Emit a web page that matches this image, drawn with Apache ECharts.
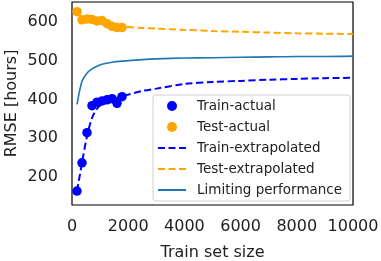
<!DOCTYPE html>
<html>
<head>
<meta charset="utf-8">
<script src="https://cdn.jsdelivr.net/npm/echarts@6/dist/echarts.min.js"></script>
<style>
  html, body { margin: 0; padding: 0; background: #fff; }
  #learnCurve { width: 381px; height: 261px; }
</style>
</head>
<body>
<div id="learnCurve"></div>
<script>
// measured points
const trainSizes = [178, 356, 534, 712, 890, 1068, 1246, 1424, 1602, 1780];
const trainRmse = [163, 236, 314, 384, 393, 396, 399, 402, 390, 407];
const testRmse = [627, 606, 608, 607, 603, 604, 596, 589, 586, 586];

// extrapolated curves
const extrapSizes = [178, 356, 534, 712, 890, 1068, 1424, 1780, 2500, 3000, 4000, 5000, 6000, 7000, 8000, 9000, 10000];
const trainExtrap = [163, 236, 305, 352, 376, 388, 400, 408, 422, 428, 440, 445, 448, 451, 453, 455, 456];
const testExtrap = [622, 612, 606, 602, 599, 596, 591, 588, 585, 583, 580, 577, 575, 573, 571, 570, 569];
const limiting = [387, 447, 468, 479, 486, 491, 496, 499, 503, 505, 507, 508, 509, 510, 511, 511, 512];

const xTicks = [0, 2000, 4000, 6000, 8000, 10000];

function pairs(xs, ys) {
  return xs.map(function(x, i) { return [x, ys[i]]; });
}

const chart = echarts.init(document.getElementById('learnCurve'));
const font = 'DejaVu Sans';
const dash = [7, 3.5];

chart.setOption({
  backgroundColor: '#fff',
  animation: false,
  textStyle: { fontFamily: font },
  grid: {
    left: 72, right: 28, top: 2, bottom: 56,
    containLabel: false,
    outerBoundsMode: 'none',
    show: true,
    borderColor: '#000',
    borderWidth: 1.2
  },
  xAxis: {
    type: 'value',
    min: xTicks[0],
    max: xTicks[xTicks.length - 1],
    interval: 2000,
    name: 'Train set size',
    nameLocation: 'middle',
    nameGap: 40,
    nameTextStyle: { fontSize: 16, color: '#222', fontFamily: font },
    axisLine: { show: false },
    axisTick: { show: false },
    splitLine: { show: false },
    axisLabel: {
      fontSize: 16, color: '#222', margin: 14, fontFamily: font,
      formatter: function(v) { return String(v); }
    }
  },
  yAxis: {
    type: 'value',
    min: 127,
    max: 652,
    splitNumber: 5,
    name: 'RMSE [hours]',
    nameLocation: 'middle',
    nameGap: 52,
    nameMoveOverlap: false,
    nameTextStyle: { fontSize: 16, color: '#222', fontFamily: font },
    axisLine: { show: false },
    axisTick: { show: false },
    splitLine: { show: false },
    axisLabel: {
      fontSize: 16, color: '#222', margin: 14, fontFamily: font,
      showMinLabel: false, showMaxLabel: false,
      formatter: function(v) { return v % 100 === 0 ? String(v) : ''; }
    }
  },
  legend: {
    orient: 'vertical',
    left: 153,
    top: 95,
    padding: [4, 8, 4, 4],
    itemWidth: 28,
    itemHeight: 10,
    itemGap: 7,
    backgroundColor: 'rgba(255,255,255,0.85)',
    borderColor: '#d0d0d0',
    borderWidth: 1,
    borderRadius: 3,
    textStyle: { fontSize: 13.5, color: '#222', fontFamily: font, padding: [0, 0, 0, 6] },
    data: [
      'Train-actual',
      'Test-actual',
      { name: 'Train-extrapolated', itemStyle: { opacity: 0 } },
      { name: 'Test-extrapolated', itemStyle: { opacity: 0 } },
      { name: 'Limiting performance', itemStyle: { opacity: 0 } }
    ]
  },
  series: [
    {
      name: 'Train-extrapolated',
      type: 'line',
      data: pairs(extrapSizes, trainExtrap),
      smooth: 0.3,
      symbol: 'none',
      lineStyle: { color: '#0000ff', width: 2, type: dash },
      itemStyle: { color: '#0000ff' },
      z: 2
    },
    {
      name: 'Test-extrapolated',
      type: 'line',
      data: pairs(extrapSizes, testExtrap),
      smooth: 0.3,
      symbol: 'none',
      lineStyle: { color: '#ffa500', width: 2, type: dash },
      itemStyle: { color: '#ffa500' },
      z: 2
    },
    {
      name: 'Limiting performance',
      type: 'line',
      data: pairs(extrapSizes, limiting),
      smooth: 0.3,
      symbol: 'none',
      lineStyle: { color: '#1f77b4', width: 1.6 },
      itemStyle: { color: '#1f77b4' },
      z: 2
    },
    {
      name: 'Train-actual',
      type: 'scatter',
      data: pairs(trainSizes, trainRmse),
      symbolSize: 9.5,
      itemStyle: { color: '#0000ff', opacity: 1 },
      z: 3
    },
    {
      name: 'Test-actual',
      type: 'scatter',
      data: pairs(trainSizes, testRmse),
      symbolSize: 9.5,
      itemStyle: { color: '#ffa500', opacity: 1 },
      z: 3
    }
  ]
});

window.addEventListener('resize', function() {
  chart.resize();
});
</script>
</body>
</html>
